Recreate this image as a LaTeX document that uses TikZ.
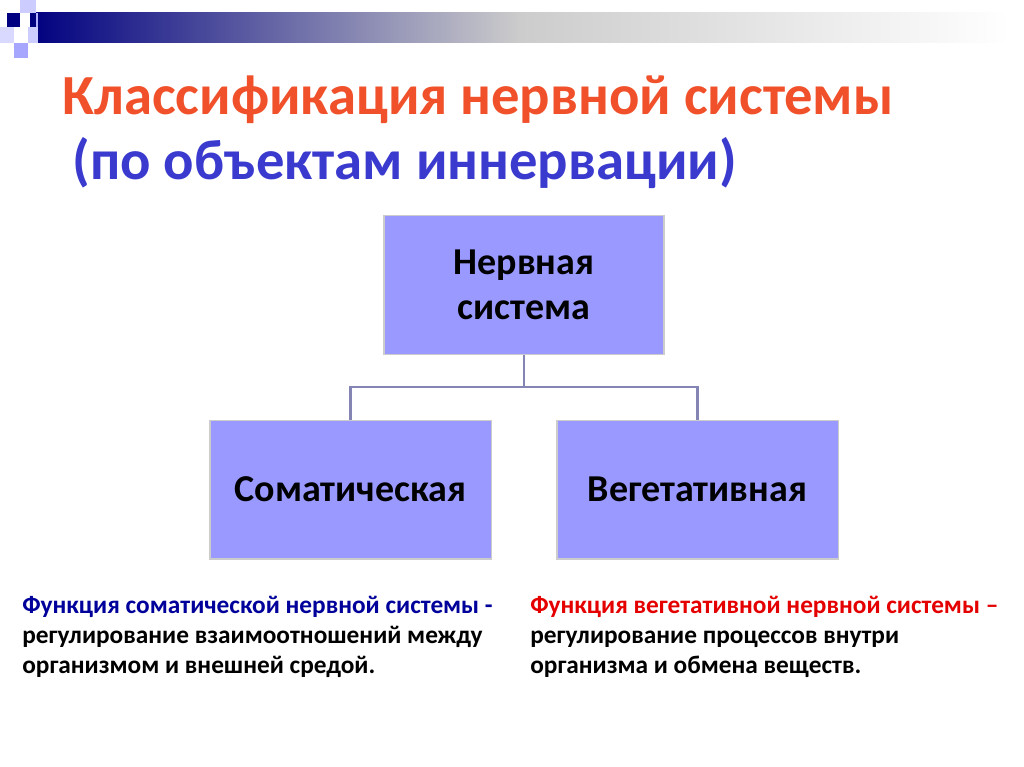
\documentclass[tikz,border=0pt]{standalone}
\usepackage{fontspec}
\setmainfont{Carlito}
\definecolor{boxfill}{HTML}{9999FF}
\definecolor{linec}{HTML}{8585B5}
\definecolor{navy}{HTML}{000080}
\definecolor{titlered}{HTML}{F0502A}
\definecolor{titleblue}{HTML}{3A3ACF}
\begin{document}
\begin{tikzpicture}[x=0.75pt,y=-0.75pt,
  box/.style={draw=black!20,line width=1pt,fill=boxfill,font=\bfseries\fontsize{28.5}{34}\selectfont,align=center},
  conn/.style={draw=linec,line width=2pt}]
\useasboundingbox (0,0) rectangle (1024,767);
% decoration
\shade[left color=navy,right color=gray!40] (30,13) rectangle (520,43);
\shade[left color=gray!40,right color=white] (520,13) rectangle (1010,43);
\fill[navy] (7,13) rectangle (20,27);
\fill[blue!20!white] (20,0) rectangle (36,13);
\fill[blue!30!white] (36,13) rectangle (38,27);
\fill[blue!15!white] (0,27) rectangle (14,43);
\fill[blue!35!white] (14,43) rectangle (28,58);
\fill[blue!20!white] (28,27) rectangle (38,43);
% title
\node[anchor=west,text=titlered,font=\bfseries\fontsize{42.5}{50}\selectfont] (t1) at (58,100) {Классификация нервной системы};
\node[anchor=west,text=titleblue,font=\bfseries\fontsize{42.5}{50}\selectfont] (t2) at (68,163) {(по объектам иннервации)};
% boxes
\node[box,minimum width=210pt,minimum height=104pt] (top) at (524,285) {Нервная\\система};
\node[box,minimum width=211pt,minimum height=104pt] (left) at (350.5,489.5) {Соматическая};
\node[box,minimum width=211pt,minimum height=104pt] (right) at (697.5,489.5) {Вегетативная};
\coordinate (mid) at (524,387);
\draw[conn] (top.south) -- (mid);
\draw[conn] (left.north) |- (mid) -| (right.north);
% bottom texts
\node[anchor=north west,align=left,inner sep=0pt,font=\bfseries\fontsize{19}{22.5}\selectfont] (lt) at (22,596)
 {\textcolor{navy!80!blue}{Функция соматической нервной системы -}\\регулирование взаимоотношений между\\организмом и внешней средой.};
\node[anchor=north west,align=left,inner sep=0pt,font=\bfseries\fontsize{19}{22.5}\selectfont] (rt) at (530,596)
 {\textcolor{red!90!black}{Функция вегетативной нервной системы –}\\регулирование процессов внутри\\организма и обмена веществ.};
\end{tikzpicture}
\end{document}
